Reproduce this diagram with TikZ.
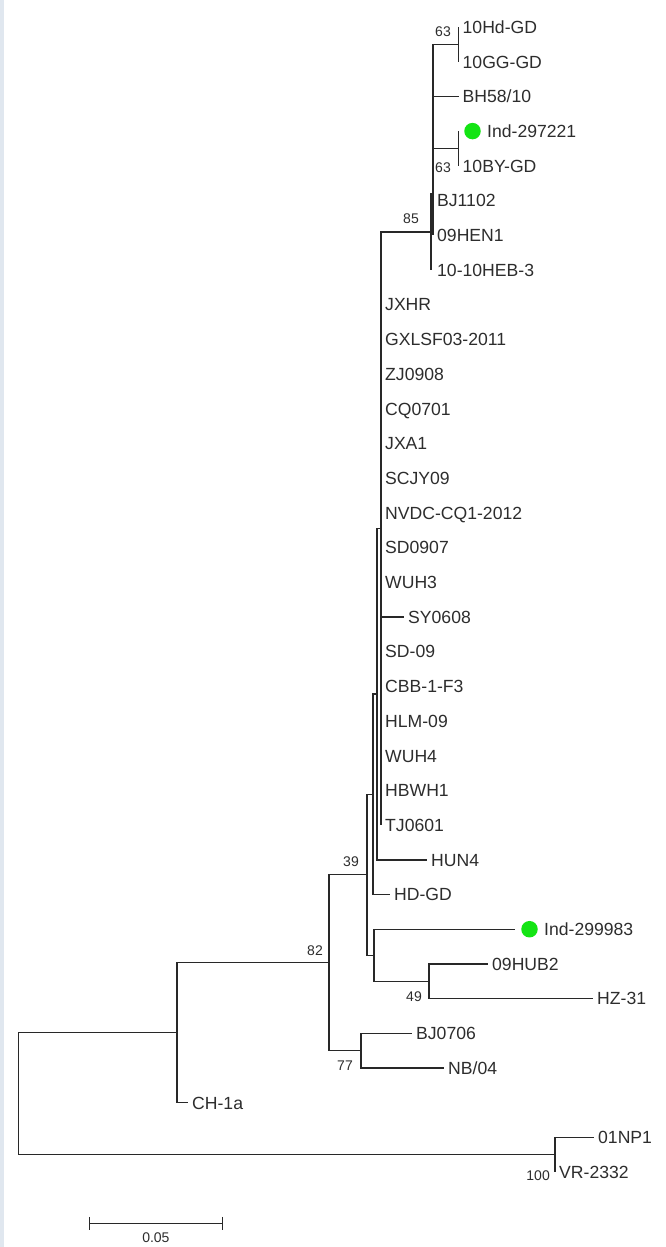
\documentclass[tikz,border=0pt]{standalone}
\usepackage{fontspec}
\setmainfont{Liberation Sans}
\definecolor{linec}{RGB}{40,40,40}
\definecolor{textc}{RGB}{45,45,45}
\definecolor{dotgreen}{RGB}{20,228,20}
\definecolor{stripc}{RGB}{224,231,239}
\begin{document}
\begin{tikzpicture}[x=1pt,y=-1pt,
  br/.style={draw=linec, line width=1.4pt},
  lab/.style={anchor=base west, inner sep=0pt, font=\fontsize{17.6}{18}\selectfont, text=textc, yshift=-6.3pt, xshift=4pt},
  bs/.style={anchor=base east, inner sep=0pt, font=\fontsize{14}{15}\selectfont, text=textc},
  gdot/.style={circle, fill=dotgreen, draw=none, inner sep=0pt, minimum size=16.5pt}]
\useasboundingbox (0,0) rectangle (666,1247);
\fill[white] (0,0) rectangle (666,1247);
\fill[stripc] (0,0) rectangle (4,1247);

% internal nodes
\coordinate (nRoot) at (18.5,1093.7);
\coordinate (nCH) at (177,1032.7);
\coordinate (n100) at (555,1154.75);
\coordinate (n82) at (329,962.7);
\coordinate (nA) at (367,874.75);
\coordinate (n77) at (361,1050.65);
\coordinate (nD) at (373,794.3);
\coordinate (nC) at (374,955.2);
\coordinate (n49) at (429,981.25);
\coordinate (nE) at (377,694.1);
\coordinate (nF) at (381,528.5);
\coordinate (n85) at (431,232);
\coordinate (nG) at (433,194);
\coordinate (n63a) at (458.5,44.35);
\coordinate (n63b) at (458.5,148.45);

% tips
\coordinate (t01NP1) at (594,1137.4);
\coordinate (tVR) at (555,1172.1);
\coordinate (tCH1a) at (188,1102.7);
\coordinate (tBJ0706) at (412,1033.3);
\coordinate (tNB04) at (444,1068);
\coordinate (tInd2) at (515,929.2);
\coordinate (t09HUB2) at (488,963.9);
\coordinate (tHZ31) at (593,998.6);
\coordinate (tHDGD) at (390,894.5);
\coordinate (tHUN4) at (427,859.8);
\coordinate (tSY) at (404,616.9);
\coordinate (tTJ) at (381,825.1);
\coordinate (tHEB) at (431,269.9);
\coordinate (tHEN) at (433,235.2);
\coordinate (tBH58) at (458.5,96.4);
\coordinate (tHd) at (458.5,27);
\coordinate (tGG) at (458.5,61.7);
\coordinate (tInd1) at (458.5,131.1);
\coordinate (tBY) at (458.5,165.8);

% branches
\draw[br] (nRoot) |- (nCH);
\draw[br] (nRoot) |- (n100);
\draw[br] (n100) |- (t01NP1);
\draw[br] (n100) |- (tVR);
\draw[br] (nCH) |- (n82);
\draw[br] (nCH) |- (tCH1a);
\draw[br] (n82) |- (nA);
\draw[br] (n82) |- (n77);
\draw[br] (n77) |- (tBJ0706);
\draw[br] (n77) |- (tNB04);
\draw[br] (nA) |- (nD);
\draw[br] (nA) |- (nC);
\draw[br] (nC) |- (tInd2);
\draw[br] (nC) |- (n49);
\draw[br] (n49) |- (t09HUB2);
\draw[br] (n49) |- (tHZ31);
\draw[br] (nD) |- (nE);
\draw[br] (nD) |- (tHDGD);
\draw[br] (nE) |- (nF);
\draw[br] (nE) |- (tHUN4);
\draw[br] (nF) |- (n85);
\draw[br] (nF) |- (tSY);
\draw[br] (nF) |- (tTJ);
\draw[br] (n85) |- (nG);
\draw[br] (n85) |- (tHEB);
\draw[br] (nG) |- (n63a);
\draw[br] (nG) |- (tBH58);
\draw[br] (nG) |- (n63b);
\draw[br] (nG) |- (tHEN);
\draw[br] (n63a) |- (tHd);
\draw[br] (n63a) |- (tGG);
\draw[br] (n63b) |- (tInd1);
\draw[br] (n63b) |- (tBY);

% green markers
\node[gdot] (g1) at (472.5,131.1) {};
\node[gdot] (g2) at (529.5,929.2) {};

% leaf labels
\node[lab] (L10Hd) at (tHd) {10Hd-GD};
\node[lab] (L10GG) at (tGG) {10GG-GD};
\node[lab] (LBH58) at (tBH58) {BH58/10};
\node[lab] (LInd1) at (483,131.1) {Ind-297221};
\node[lab] (LBY) at (tBY) {10BY-GD};
\node[lab] (LBJ1102) at (433,200.5) {BJ1102};
\node[lab] (LHEN) at (tHEN) {09HEN1};
\node[lab] (LHEB) at (433,269.9) {10-10HEB-3};
\node[lab] (LJXHR) at (381,304.6) {JXHR};
\node[lab] (LGXL) at (381,339.3) {GXLSF03-2011};
\node[lab] (LZJ) at (381,374) {ZJ0908};
\node[lab] (LCQ) at (381,408.7) {CQ0701};
\node[lab] (LJXA) at (381,443.4) {JXA1};
\node[lab] (LSCJY) at (381,478.1) {SCJY09};
\node[lab] (LNVDC) at (381,512.8) {NVDC-CQ1-2012};
\node[lab] (LSD0907) at (381,547.5) {SD0907};
\node[lab] (LWUH3) at (381,582.2) {WUH3};
\node[lab] (LSY) at (tSY) {SY0608};
\node[lab] (LSD09) at (381,651.6) {SD-09};
\node[lab] (LCBB) at (381,686.3) {CBB-1-F3};
\node[lab] (LHLM) at (381,721) {HLM-09};
\node[lab] (LWUH4) at (381,755.7) {WUH4};
\node[lab] (LHBWH) at (381,790.4) {HBWH1};
\node[lab] (LTJ) at (tTJ) {TJ0601};
\node[lab] (LHUN4) at (tHUN4) {HUN4};
\node[lab] (LHDGD) at (tHDGD) {HD-GD};
\node[lab] (LInd2) at (540,929.2) {Ind-299983};
\node[lab] (L09HUB2) at (t09HUB2) {09HUB2};
\node[lab] (LHZ31) at (tHZ31) {HZ-31};
\node[lab] (LBJ0706) at (tBJ0706) {BJ0706};
\node[lab] (LNB04) at (tNB04) {NB/04};
\node[lab] (LCH1a) at (tCH1a) {CH-1a};
\node[lab] (L01NP1) at (t01NP1) {01NP1};
\node[lab] (LVR) at (tVR) {VR-2332};

% bootstrap values
\node[bs] (b63a) at (451,37) {63};
\node[bs] (b63b) at (451,172) {63};
\node[bs] (b85) at (419,223) {85};
\node[bs] (b39) at (359,866) {39};
\node[bs] (b82) at (323,955) {82};
\node[bs] (b49) at (422,1001.5) {49};
\node[bs] (b77) at (353,1070) {77};
\node[bs] (b100) at (550,1180) {100};

% scale bar
\coordinate (sbL) at (89.5,1223.3);
\coordinate (sbR) at (222.3,1223.3);
\draw[br] (sbL) -- (sbR);
\draw[br] ([yshift=6.5pt]sbL) -- ([yshift=-6.5pt]sbL);
\draw[br] ([yshift=6.5pt]sbR) -- ([yshift=-6.5pt]sbR);
\node[anchor=base, inner sep=0pt, font=\fontsize{14}{15}\selectfont, text=textc] (sbt) at (155.9,1242.5) {0.05};
\end{tikzpicture}
\end{document}
